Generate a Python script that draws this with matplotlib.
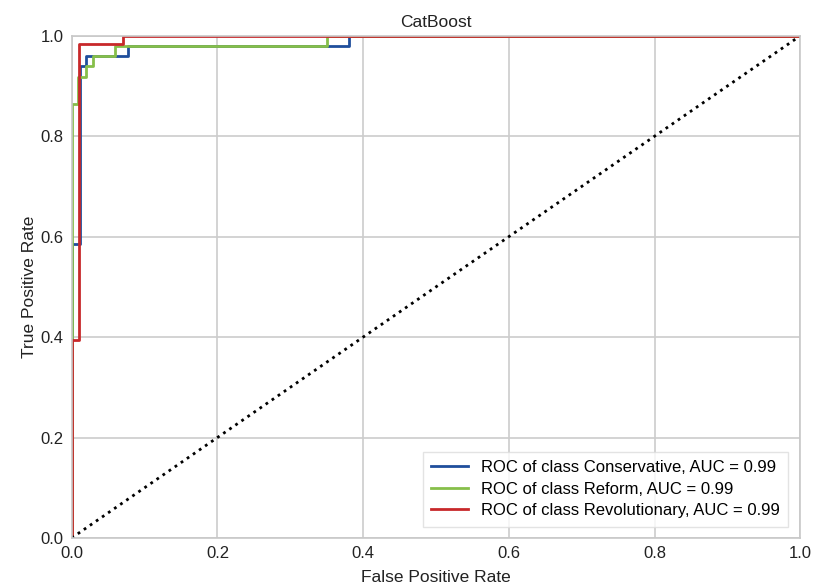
import matplotlib
matplotlib.use("Agg")
import matplotlib.pyplot as plt

plt.rcParams['font.family'] = ['Liberation Sans', 'DejaVu Sans']

title = "CatBoost"
xlabel = "False Positive Rate"
ylabel = "True Positive Rate"

classes = ["Conservative", "Reform", "Revolutionary"]
aucs = [0.99, 0.99, 0.99]
colors = ["#1f4e9c", "#86bf4a", "#c8282a"]

fpr_cons = [0.0, 0.0, 0.012, 0.012, 0.019, 0.019, 0.077, 0.077, 0.38, 0.38, 1.0]
tpr_cons = [0.0, 0.586, 0.586, 0.94, 0.94, 0.96, 0.96, 0.979, 0.979, 1.0, 1.0]

fpr_ref = [0.0, 0.0, 0.008, 0.008, 0.02, 0.02, 0.029, 0.029, 0.059, 0.059, 0.35, 0.35, 1.0]
tpr_ref = [0.0, 0.865, 0.865, 0.918, 0.918, 0.94, 0.94, 0.96, 0.96, 0.979, 0.979, 1.0, 1.0]

fpr_rev = [0.0, 0.0, 0.0096, 0.0096, 0.071, 0.071, 1.0]
tpr_rev = [0.0, 0.395, 0.395, 0.984, 0.984, 1.0, 1.0]

curves = [(fpr_cons, tpr_cons), (fpr_ref, tpr_ref), (fpr_rev, tpr_rev)]

fig = plt.figure(figsize=(8.15, 5.86), dpi=100)
ax = fig.add_axes([0.088, 0.082, 0.894, 0.857])

for (f, t), c, name, a in zip(curves, colors, classes, aucs):
    ax.plot(f, t, color=c, lw=2, label=f"ROC of class {name}, AUC = {a:.2f}")

ax.plot([0, 1], [0, 1], color="black", lw=2, linestyle=":")

ax.set_xlim(0, 1)
ax.set_ylim(0, 1)
ax.set_xticks([0, 0.2, 0.4, 0.6, 0.8, 1.0])
ax.set_yticks([0, 0.2, 0.4, 0.6, 0.8, 1.0])
ax.grid(True, color="#cccccc", lw=1.2)
ax.set_axisbelow(True)
ax.tick_params(length=0, labelsize=12, pad=6, colors="#222222")
for s in ax.spines.values():
    s.set_color("#c8c8c8")
    s.set_linewidth(1.2)

ax.set_title(title, fontsize=12.5, color="#222222", pad=6)
ax.set_xlabel(xlabel, fontsize=12.5, color="#222222", labelpad=6)
ax.set_ylabel(ylabel, fontsize=12.5, color="#222222", labelpad=2)

leg = ax.legend(loc="lower right", fontsize=12, frameon=True, handlelength=2.2,
                borderpad=0.5, labelspacing=0.4, fancybox=False,
                bbox_to_anchor=(0.995, 0.006))
leg.get_frame().set_edgecolor("#dddddd")

fig.savefig("out.png", dpi=100)
